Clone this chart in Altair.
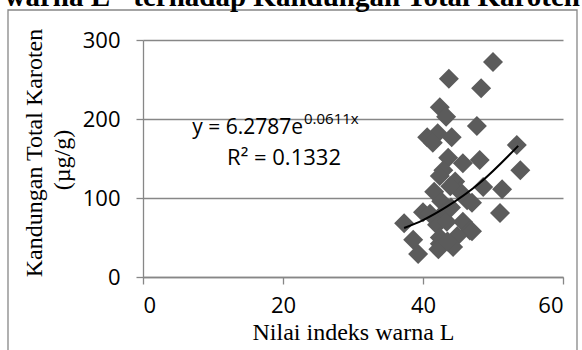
import altair as alt
import pandas as pd

# data
L_values = [50.0, 43.7, 48.3, 42.4, 43.3, 47.7, 42.1, 40.6, 44.1, 41.4,
            53.4, 43.6, 48.1, 45.7, 42.9, 53.9, 42.4, 44.6, 48.6, 51.3,
            41.6, 45.3, 43.9, 46.3, 47.0, 42.6, 51.0, 40.0, 42.9, 37.3,
            42.0, 45.7, 43.4, 46.7, 47.0, 38.6, 42.4, 44.9, 42.4, 44.3,
            39.3, 42.2, 43.5, 41.0, 44.0]
karoten = [272, 251, 239, 215, 203, 191, 182, 177, 177, 170,
           167, 151, 148, 144, 135, 135, 128, 121, 114, 111,
           108, 108, 115, 97, 94, 96, 81, 82, 81, 68,
           66, 70, 70, 59, 58, 47, 50, 52, 42, 38,
           29, 35, 45, 80, 88]
# exponential trend line
trend_L = [37.3, 40.0, 43.4, 48.1, 53.6]
trend_K = [62, 72, 89, 119, 166]
x_ticks = [0, 20, 40, 60]
y_ticks = [0, 50, 100, 150, 200, 250, 300]

df = pd.DataFrame({"L": L_values, "K": karoten})
tdf = pd.DataFrame({"L": trend_L, "K": trend_K})

GRID = "#878787"
PTS = "#5b5b5b"

xs = alt.Scale(domain=[0, 60], nice=False)
ys = alt.Scale(domain=[0, 300], nice=False)

points = alt.Chart(df).mark_point(shape="diamond", filled=True, size=400, color=PTS, opacity=1).encode(
    x=alt.X("L:Q", scale=xs, axis=alt.Axis(values=x_ticks, title="Nilai indeks warna L",
                                           grid=False, tickSize=7, tickColor=GRID, domainColor=GRID,
                                           domainWidth=1.3, tickWidth=1.3,
                                           labelFont="Open Sans", labelFontSize=22, labelColor="black",
                                           labelPadding=11,
                                           titleFont="Liberation Serif", titleFontSize=24,
                                           titleFontWeight="normal", titleColor="black", titlePadding=4)),
    y=alt.Y("K:Q", scale=ys, axis=alt.Axis(values=y_ticks, title=None,
                                           grid=True, gridColor=GRID, gridWidth=1.3,
                                           tickSize=7, tickColor=GRID, domainColor=GRID,
                                           domainWidth=1.3, tickWidth=1.3,
                                           labelFont="Open Sans", labelFontSize=22, labelColor="black",
                                           labelPadding=16)),
)

trend = alt.Chart(tdf).mark_line(color="black", strokeWidth=2, interpolate="monotone").encode(
    x=alt.X("L:Q", scale=xs), y=alt.Y("K:Q", scale=ys))

one = alt.Chart(pd.DataFrame({"a": [0]}))

def label(text, x, y, **kw):
    return one.mark_text(text=text, **kw).encode(x=alt.value(x), y=alt.value(y))

eq1 = label("y = 6.2787e", 160, 94, align="right", baseline="alphabetic",
            font="Open Sans", fontSize=21, color="black")
eq2 = label("0.0611x", 161, 84, align="left", baseline="alphabetic",
            font="Open Sans", fontSize=15, color="black")
eq3 = label("R² = 0.1332", 141, 125, align="center", baseline="alphabetic",
            font="Open Sans", fontSize=22, color="black")
yt1 = label("Kandungan Total Karoten", -108, 113, angle=270, align="center", baseline="middle",
            font="Liberation Serif", fontSize=24, color="black")
yt2 = label("(µg/g)", -80, 120, angle=270, align="center", baseline="middle",
            font="Liberation Serif", fontSize=24, color="black")
top = label('warna L" terhadap Kandungan Total Karoten', 437, -34, align="right",
            baseline="alphabetic", font="Liberation Serif", fontSize=29, fontWeight="bold",
            color="black")
frame = one.mark_rect(fillOpacity=0, stroke=GRID, strokeWidth=1.3).encode(
    x=alt.value(-135), x2=alt.value(434), y=alt.value(-30), y2=alt.value(330))

chart = alt.layer(frame, points, trend, eq1, eq2, eq3, yt1, yt2, top).properties(
    width=420, height=237,
    autosize=alt.AutoSizeParams(type="none"),
    padding={"left": 143, "top": 40, "right": 19, "bottom": 73},
    background="white",
).configure_view(strokeWidth=0)

chart.save("out.html", embed_options={"renderer": "svg", "actions": False})
